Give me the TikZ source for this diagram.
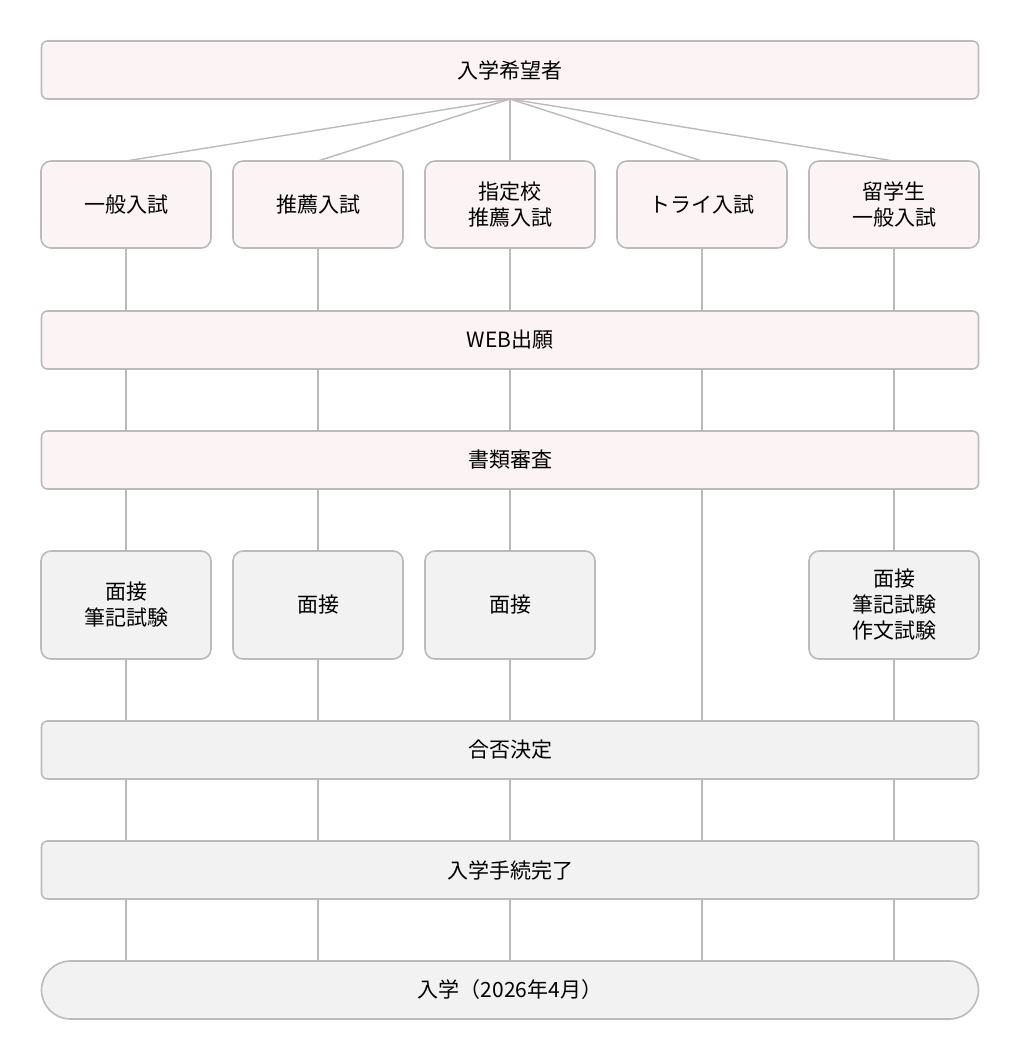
\documentclass[tikz,border=0pt]{standalone}
\usepackage{fontspec}
\setmainfont{Noto Sans CJK JP}
\usetikzlibrary{positioning}
\definecolor{pinkbg}{HTML}{FCF4F4}
\definecolor{greybg}{HTML}{F2F2F2}
\definecolor{edge}{HTML}{BBBBBB}
\begin{document}
\begin{tikzpicture}[x=0.5pt,y=-0.5pt,
	every node/.style={font=\fontsize{10.5}{13}\selectfont,align=center,inner sep=0pt,outer sep=0pt},
	wide/.style={draw=edge,line width=0.8pt,rounded corners=3pt,minimum width=468.5pt,minimum height=29pt},
	small/.style={draw=edge,line width=0.8pt,rounded corners=5pt,minimum width=85pt},
	pink/.style={fill=pinkbg},
	grey/.style={fill=greybg},
	link/.style={draw=edge,line width=0.7pt}]
	\useasboundingbox (0,0) rectangle (1020,1060);
	% top rows
	\node[wide,pink] (TOP) at (510,70) {入学希望者};
	\node[small,pink,minimum height=43.5pt] (A1) at (126,204.5) {一般入試};
	\node[small,pink,minimum height=43.5pt] (A2) at (318,204.5) {推薦入試};
	\node[small,pink,minimum height=43.5pt] (A3) at (510,204.5) {指定校\\推薦入試};
	\node[small,pink,minimum height=43.5pt] (A4) at (702,204.5) {トライ入試};
	\node[small,pink,minimum height=43.5pt] (A5) at (894,204.5) {留学生\\一般入試};
	\node[wide,pink] (WEB) at (510,340) {WEB出願};
	\node[wide,pink] (DOC) at (510,460) {書類審査};
	% exams
	\node[small,grey,minimum height=54pt] (E1) at (126,605) {面接\\筆記試験};
	\node[small,grey,minimum height=54pt] (E2) at (318,605) {面接};
	\node[small,grey,minimum height=54pt] (E3) at (510,605) {面接};
	\node[small,grey,minimum height=54pt] (E5) at (894,605) {面接\\筆記試験\\作文試験};
	\node[wide,grey] (RES) at (510,750) {合否決定};
	\node[wide,grey] (PROC) at (510,870) {入学手続完了};
	\node[wide,grey,rounded corners=14.5pt] (ENT) at (510,990) {入学（2026年4月）};

	\foreach \n in {1,...,5}
		\draw[link] (TOP.south) -- (A\n.north);
	\foreach \n/\x in {1/126,2/318,3/510,4/702,5/894} {
		\draw[link] (A\n.south) -- (\x,311);
		\draw[link] (\x,369) -- (\x,431);
		\draw[link] (\x,779) -- (\x,841);
		\draw[link] (\x,899) -- (\x,961);
	}
	\foreach \n in {1,2,3,5} {
		\draw[link] (E\n.north) -- (E\n.north |- DOC.south);
		\draw[link] (E\n.south) -- (E\n.south |- RES.north);
	}
	\draw[link] (702,489) -- (702,721);
\end{tikzpicture}
\end{document}
